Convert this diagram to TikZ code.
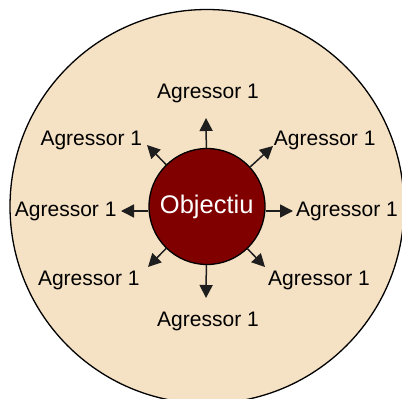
\documentclass[tikz,border=0pt]{standalone}
\usepackage{fontspec}
\setmainfont{Liberation Sans}
\usetikzlibrary{arrows.meta}
\definecolor{beige}{HTML}{F5E1C4}
\definecolor{darkred}{HTML}{800000}
\tikzset{
  arr/.style={line width=1.5pt, draw={rgb,255:red,30;green,30;blue,30}, -{Triangle[length=13pt,width=13pt]}},
  lbl/.style={anchor=base, inner sep=0pt, font=\fontsize{21}{21}\selectfont},
}
\begin{document}
\begin{tikzpicture}[x=1pt,y=-1pt]
\useasboundingbox (0,0) rectangle (402,399);
\begin{scope}
\clip (0,0) rectangle (402,399);
\node[circle, draw=black, line width=1.3pt, fill=beige, minimum size=394pt, inner sep=0pt] (outer) at (207,206.5) {};
\end{scope}
\node[circle, draw=black, line width=1.3pt, fill=darkred, minimum size=116pt, inner sep=0pt] (obj) at (207,206.5) {};
\node[anchor=base, inner sep=0pt, text=white, font=\fontsize{25.5}{25.5}\selectfont] (objt) at (206.7,213.3) {Objectiu};
\coordinate (tT) at (206,118);
\coordinate (tB) at (206,298);
\coordinate (tL) at (121,211);
\coordinate (tR) at (293,211);
\coordinate (tTR) at (273,146);
\coordinate (tBR) at (265,267);
\coordinate (tTL) at (147,145);
\coordinate (tBL) at (148,267);
\draw[arr] (obj) -- (tT);
\draw[arr] (obj) -- (tB);
\draw[arr] (obj.west |- tL) -- (tL);
\draw[arr] (obj.east |- tR) -- (tR);
\draw[arr] (obj) -- (tTR);
\draw[arr] (obj) -- (tBR);
\draw[arr] (obj) -- (tTL);
\draw[arr] (obj) -- (tBL);
\node[lbl] (aT) at (208,98) {Agressor 1};
\node[lbl] (aTL) at (91.3,145.7) {Agressor 1};
\node[lbl] (aTR) at (324.7,145.7) {Agressor 1};
\node[lbl] (aL) at (65.7,216.7) {Agressor 1};
\node[lbl] (aR) at (347,216.7) {Agressor 1};
\node[lbl] (aBL) at (88.8,285.7) {Agressor 1};
\node[lbl] (aBR) at (319,285.7) {Agressor 1};
\node[lbl] (aB) at (208,326) {Agressor 1};
\end{tikzpicture}
\end{document}
